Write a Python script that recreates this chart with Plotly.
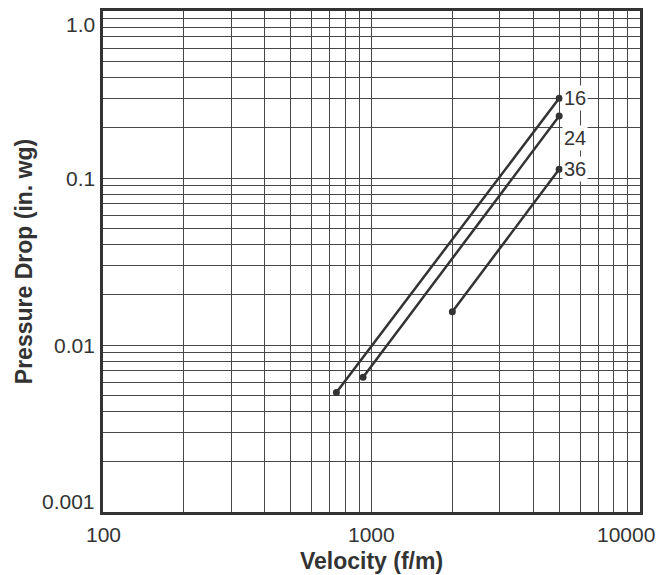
import math
import plotly.graph_objects as go

# pressure drop vs face velocity, one line per filter depth
series_names = ["16", "24", "36"]
velocity = {
    "16": [740, 5000],
    "24": [930, 5000],
    "36": [2000, 5000],
}
pressure = {
    "16": [0.0052, 0.30],
    "24": [0.0064, 0.235],
    "36": [0.0158, 0.113],
}
label_yshift = {"16": 0, "24": -22, "36": 0}

x_tick_vals = [100, 1000, 10000]
x_tick_text = ["100", "1000", "10000"]
y_tick_vals = [1.0, 0.1, 0.01, 0.001]
y_tick_text = ["1.0", "0.1", "0.01", "0.001"]

# log grid: 1..9 x each decade
x_grid = [m * 10 ** e for e in range(2, 4) for m in range(1, 10)] + [10000]
y_grid = [m * 10.0 ** e for e in range(-3, 0) for m in range(1, 10)] + [1.0]

INK = "#333333"
GRID = "#474747"
FONT = "Liberation Sans, Arial, sans-serif"

fig = go.Figure()
for name in series_names:
    fig.add_trace(go.Scatter(
        x=velocity[name], y=pressure[name], mode="lines+markers",
        line=dict(color=INK, width=2.5),
        marker=dict(color=INK, size=7),
        showlegend=False,
    ))

# annotations on log axes take log10 coordinates
annotations = []
for name in series_names:
    annotations.append(dict(
        x=math.log10(velocity[name][-1]), y=math.log10(pressure[name][-1]),
        xref="x", yref="y", text=name, showarrow=False,
        xanchor="left", xshift=3, yshift=label_yshift[name],
        bgcolor="white", borderpad=1,
        font=dict(family=FONT, size=20, color=INK),
    ))
for v, t in zip(y_tick_vals, y_tick_text):
    anchor, shift = "middle", 0
    if v == max(y_tick_vals):
        anchor = "top"
    elif v == min(y_tick_vals):
        anchor, shift = "bottom", -3
    annotations.append(dict(
        x=0, xref="paper", y=math.log10(v), yref="y", text=t,
        showarrow=False, xanchor="right", yanchor=anchor, xshift=-6,
        yshift=shift, font=dict(family=FONT, size=21, color=INK),
    ))
for v, t in zip(x_tick_vals, x_tick_text):
    anchor = "right" if v == max(x_tick_vals) else "center"
    annotations.append(dict(
        x=math.log10(v), xref="x", y=0, yref="paper", text=t,
        showarrow=False, xanchor=anchor, yanchor="top", yshift=-9,
        xshift=17 if anchor == "right" else 0,
        font=dict(family=FONT, size=21, color=INK),
    ))

axis_common = dict(
    type="log", showticklabels=False, ticks="",
    showgrid=True, gridcolor=GRID, gridwidth=1.2,
    showline=True, linecolor="#333333", linewidth=2.8, mirror=True,
    zeroline=False, automargin=False,
)

# page body has an 8px margin, so the figure is 8px smaller than the window
fig.update_layout(
    width=656, height=567,
    margin=dict(l=95, r=24, t=3, b=63),
    paper_bgcolor="white", plot_bgcolor="white",
    font=dict(family=FONT, color=INK),
    xaxis=dict(axis_common, range=[2, 4], tickvals=x_grid,
               title=dict(text="<b>Velocity (f/m)</b>", standoff=39,
                          font=dict(family=FONT, size=23, color=INK))),
    yaxis=dict(axis_common, range=[-3, 0], tickvals=y_grid,
               title=dict(text="<b>Pressure Drop (in. wg)</b>", standoff=62,
                          font=dict(family=FONT, size=23, color=INK))),
    annotations=annotations,
)

fig.write_html("out.html")
